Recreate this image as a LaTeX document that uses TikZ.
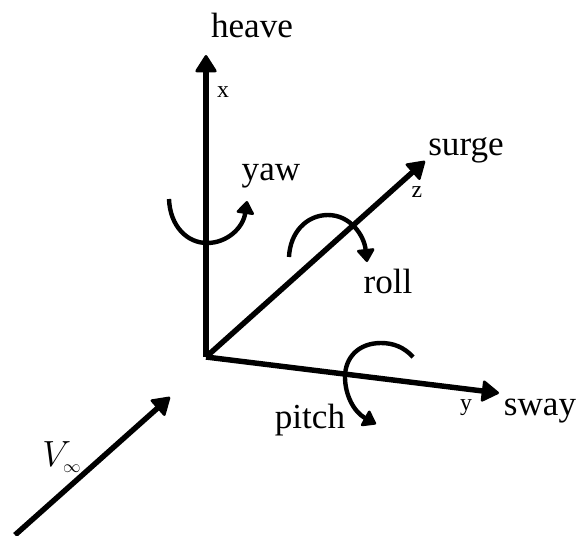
\documentclass[tikz,border=0pt]{standalone}
\usepackage{fontspec}
\usepackage{amsmath}
\setmainfont{Liberation Serif}
\usetikzlibrary{arrows.meta}
\begin{document}
\begin{tikzpicture}[
    x=0.02cm,
    y=-0.02cm,
    axis/.style={-{Triangle[round, length=10.5pt, width=13pt, line width=1.5pt]}, line width=3.1pt},
    turn/.style={-{Triangle[round, length=8pt, width=11pt, line width=1.5pt]}, line width=2.5pt},
    motion/.style={font=\fontsize{20}{20}\selectfont, anchor=base},
    axlabel/.style={font=\fontsize{13.5}{14}\selectfont, anchor=base}
]
    \useasboundingbox (0, 0) rectangle (578, 535);

    % Axes
    \coordinate (origin) at (206, 357);
    \coordinate (xtip) at (206, 55);
    \coordinate (ztip) at (425, 161);
    \coordinate (ytip) at (499, 393);
    \draw[axis] (origin) -- (xtip);
    \draw[axis] (origin) -- (ztip);
    \draw[axis] (origin) -- (ytip);

    % Free stream
    \coordinate (vstart) at (15, 535);
    \coordinate (vtip) at (170, 397);
    \draw[axis] (vstart) -- (vtip);

    % Rotations
    \coordinate (yawstart) at (169, 199);
    \coordinate (yawtip) at (247, 201);
    \coordinate (rollstart) at (289, 257);
    \coordinate (rolltip) at (367, 262);
    \coordinate (pitchstart) at (413, 357);
    \coordinate (pitchtip) at (376, 424);
    \draw[turn] (yawstart) .. controls (170, 226) and (187, 243) .. (207, 243)
        .. controls (227, 243) and (243, 228) .. (yawtip);
    \draw[turn] (rollstart) .. controls (290, 233) and (306, 215) .. (328, 215)
        .. controls (350, 215) and (364, 235) .. (rolltip);
    \draw[turn] (pitchstart) .. controls (404, 347) and (393, 343) .. (381, 343)
        .. controls (358, 343) and (345, 358) .. (345, 377)
        .. controls (345, 395) and (354, 412) .. (pitchtip);

    % Labels
    \node[motion] (heave) at (252, 37) {heave};
    \node[motion] (yaw) at (271, 180) {yaw};
    \node[motion] (surge) at (466, 155) {surge};
    \node[motion] (roll) at (388, 293) {roll};
    \node[motion] (pitch) at (310, 428) {pitch};
    \node[motion] (sway) at (540, 415) {sway};
    \node[axlabel] (xlabel) at (223, 97) {x};
    \node[axlabel] (zlabel) at (417, 197) {z};
    \node[axlabel] (ylabel) at (466, 410) {y};
    \node[font=\fontsize{20}{20}\selectfont] (vinf) at (62, 457) {$V_{\scriptscriptstyle\infty}$};
\end{tikzpicture}
\end{document}
